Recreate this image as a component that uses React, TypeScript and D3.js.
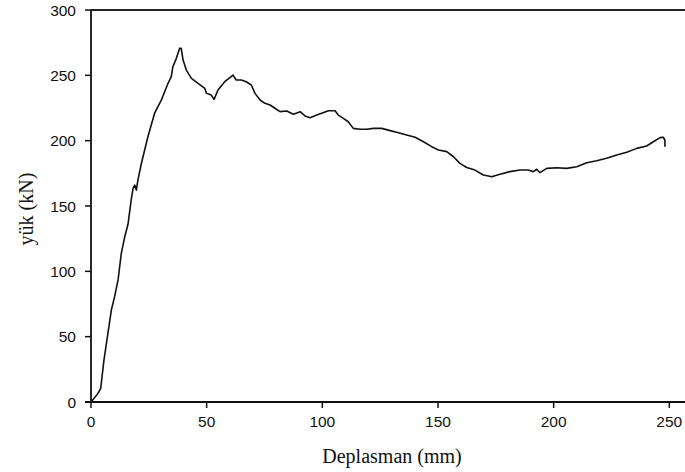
import React from "react";
import * as d3 from "d3";

const dispX: number[] = [0, 0.4, 3.0, 4.2, 5.6, 7.1, 8.8, 10.2, 11.7, 13.1, 14.6, 16.0, 17.4, 18.2, 18.9, 19.6, 20.3, 21.8, 23.2, 24.6, 27.5, 30.4, 33.3, 34.7, 35.4, 36.9, 38.3, 39.0, 39.8, 41.2, 43.4, 46.3, 49.2, 49.9, 52.0, 53.2, 54.9, 57.8, 61.4, 62.8, 65.0, 67.1, 69.3, 70.9, 73.1, 75.2, 77.4, 79.5, 81.7, 84.6, 87.5, 90.4, 92.5, 94.7, 97.6, 99.7, 102.6, 105.5, 106.9, 109.1, 111.2, 113.4, 116.3, 119.2, 122.1, 125.7, 129.3, 132.9, 136.5, 140.1, 143.7, 147.3, 150.2, 153.8, 156.7, 159.5, 162.4, 166.0, 169.6, 171.8, 173.2, 176.8, 181.1, 185.5, 189.0, 191.2, 192.7, 194.1, 197.0, 201.3, 205.6, 210.0, 214.3, 218.6, 222.9, 227.3, 231.6, 235.9, 240.2, 243.1, 246.0, 247.4, 248.1, 248.1];
const loadY: number[] = [0, 0.8, 6.6, 10.5, 32, 50, 70.4, 80.6, 93.4, 113.8, 126.5, 136, 155, 163.5, 166, 162.2, 170, 182.7, 192.9, 203, 221, 231, 243.9, 249, 256.6, 263, 270.6, 270.6, 261.7, 254, 247.7, 243.9, 240, 236.2, 234.9, 231.6, 238.8, 245.1, 250.2, 246.4, 246.4, 245.1, 242.6, 236.2, 231.1, 228.6, 227.3, 224.8, 222.2, 222.7, 220.2, 222.2, 218.9, 217.6, 219.6, 220.9, 222.9, 222.9, 219.6, 217.1, 214.5, 209.4, 208.7, 208.7, 209.4, 209.4, 207.7, 206.1, 204.3, 202.6, 199.2, 195.4, 192.9, 191.6, 187.7, 182.6, 179.5, 177.5, 173.7, 173, 172.4, 174.3, 176.3, 177.5, 177.5, 176.3, 178.1, 175.5, 178.8, 179.3, 178.8, 180.1, 183.1, 184.7, 186.5, 189, 191.1, 194.1, 195.9, 199.2, 202.3, 202.6, 200.5, 195.4];

const xTicks: number[] = [0, 50, 100, 150, 200, 250];
const yTicks: number[] = [0, 50, 100, 150, 200, 250, 300];
const xLabel = "Deplasman (mm)";
const yLabel = "yük (kN)";

export default function App() {
  const W = 685;
  const H = 472;
  const x = d3.scaleLinear().domain([0, 250]).range([91, 669.3]);
  const y = d3.scaleLinear().domain([0, 300]).range([402, 10]);
  const rightEdge = 685;
  const pts: [number, number][] = dispX.map((d, i) => [d, loadY[i]]);
  const line = d3
    .line<[number, number]>()
    .x((d) => x(d[0]))
    .y((d) => y(d[1]));

  const tickFont = "'Liberation Sans', Arial, sans-serif";
  const titleFont = "'Liberation Serif', 'Times New Roman', serif";

  return (
    <svg
      width={W}
      height={H}
      style={{ position: "absolute", left: 0, top: 0, background: "#fff" }}
    >
      <rect x={0} y={0} width={W} height={H} fill="#fff" />
      {/* frame */}
      <line x1={x(0)} x2={rightEdge} y1={y(300)} y2={y(300)} stroke="#222" strokeWidth={2} />
      <line x1={x(0)} x2={x(0)} y1={y(300)} y2={y(0)} stroke="#111" strokeWidth={1.8} />
      <line x1={x(0) - 6} x2={rightEdge} y1={y(0)} y2={y(0)} stroke="#111" strokeWidth={1.8} />
      {yTicks.map((t) => (
        <g key={"y" + t}>
          <line x1={x(0) - 6} x2={x(0)} y1={y(t)} y2={y(t)} stroke="#111" strokeWidth={1.5} />
          <text
            x={76}
            y={y(t) + 5.5}
            textAnchor="end"
            fontFamily={tickFont}
            fontSize={15.5}
            fill="#111"
          >
            {t}
          </text>
        </g>
      ))}
      {xTicks.map((t) => (
        <g key={"x" + t}>
          <line x1={x(t)} x2={x(t)} y1={y(0)} y2={y(0) + 6} stroke="#111" strokeWidth={1.5} />
          <text
            x={x(t)}
            y={427}
            textAnchor="middle"
            fontFamily={tickFont}
            fontSize={15.5}
            fill="#111"
          >
            {t}
          </text>
        </g>
      ))}
      <path d={line(pts) || ""} fill="none" stroke="#111" strokeWidth={1.6} strokeLinejoin="round" />
      <text
        x={392}
        y={463}
        textAnchor="middle"
        fontFamily={titleFont}
        fontSize={20}
        fill="#111"
      >
        {xLabel}
      </text>
      <text
        transform={`translate(33,209) rotate(-90)`}
        textAnchor="middle"
        fontFamily={titleFont}
        fontSize={20}
        fill="#111"
      >
        {yLabel}
      </text>
    </svg>
  );
}
